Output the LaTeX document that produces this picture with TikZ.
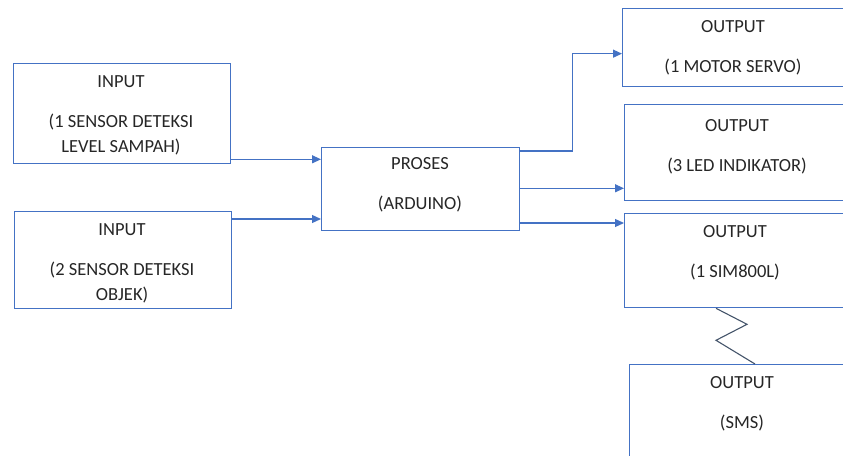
\documentclass[tikz,border=0pt]{standalone}
\usepackage{fontspec}
\setmainfont{Carlito}
\usetikzlibrary{positioning,arrows.meta}
\definecolor{boxblue}{HTML}{4472C4}
\definecolor{zigblue}{HTML}{44546A}
\definecolor{inktext}{HTML}{262626}
\tikzset{
    box/.style = {draw = boxblue, line width = 1.3pt, anchor = north west, inner sep = 0pt},
    lbl/.style = {align = center, text = inktext, inner sep = 0pt,
                  font = \fontsize{18.5}{25}\selectfont},
    link/.style = {draw = boxblue, line width = 1.2pt,
                   -{Triangle[length = 9pt, width = 8pt]}},
}
\begin{document}
\begin{tikzpicture}[x = 1pt, y = -1pt]
    \useasboundingbox (0, 0) rectangle (843, 455);
    \clip (0, 0) rectangle (843, 455);

    % boxes
    \node [box, minimum width = 217pt, minimum height = 100pt] (in1) at (13, 63) {};
    \node [box, minimum width = 217pt, minimum height = 97pt] (in2) at (14, 211) {};
    \node [box, minimum width = 198pt, minimum height = 83pt] (proc) at (321, 147) {};
    \node [box, minimum width = 222pt, minimum height = 78pt] (out1) at (622, 8) {};
    \node [box, minimum width = 226pt, minimum height = 96pt] (out2) at (624, 104) {};
    \node [box, minimum width = 224pt, minimum height = 94pt] (out3) at (624, 213) {};
    \node [box, minimum width = 226pt, minimum height = 120pt] (sms) at (629, 364) {};

    % labels
    \node [lbl] (in1txt) at (121, 115) {INPUT\\[15pt](1 SENSOR DETEKSI\\LEVEL SAMPAH)};
    \node [lbl] (in2txt) at (122, 263) {INPUT\\[15pt](2 SENSOR DETEKSI\\OBJEK)};
    \node [lbl] (proctxt) at (420, 185) {PROSES\\[15pt](ARDUINO)};
    \node [lbl] (out1txt) at (733, 47.5) {OUTPUT\\[15pt](1 MOTOR SERVO)};
    \node [lbl] (out2txt) at (737, 146.5) {OUTPUT\\[15pt](3 LED INDIKATOR)};
    \node [lbl] (out3txt) at (735, 253) {OUTPUT\\[15pt](1 SIM800L)};
    \node [lbl] (smstxt) at (742, 403.5) {OUTPUT\\[15pt](SMS)};

    % connectors
    \coordinate (a1) at ([yshift = 5pt]in1.south east);
    \coordinate (a2) at ([yshift = -8pt]in2.north east);
    \coordinate (b2) at ([yshift = 13pt]out2.south west);
    \coordinate (b3) at ([yshift = -10pt]out3.north west);
    \draw [link] (a1) -- (a1 -| proc.west);
    \draw [link] (a2) -- (a2 -| proc.west);
    \draw [link] ([yshift = -4pt]proc.north east) -- ++(52, 0) |- ([yshift = -6pt]out1.west);
    \draw [link] (b2 -| proc.east) -- (b2);
    \draw [link] (b3 -| proc.east) -- (b3);
    \draw [zigblue, line width = 1.1pt]
        ([xshift = 92pt]out3.south west) -- ++(31, 16) -- ++(-31, 16)
        -- ([xshift = 126pt]sms.north west);
\end{tikzpicture}
\end{document}
